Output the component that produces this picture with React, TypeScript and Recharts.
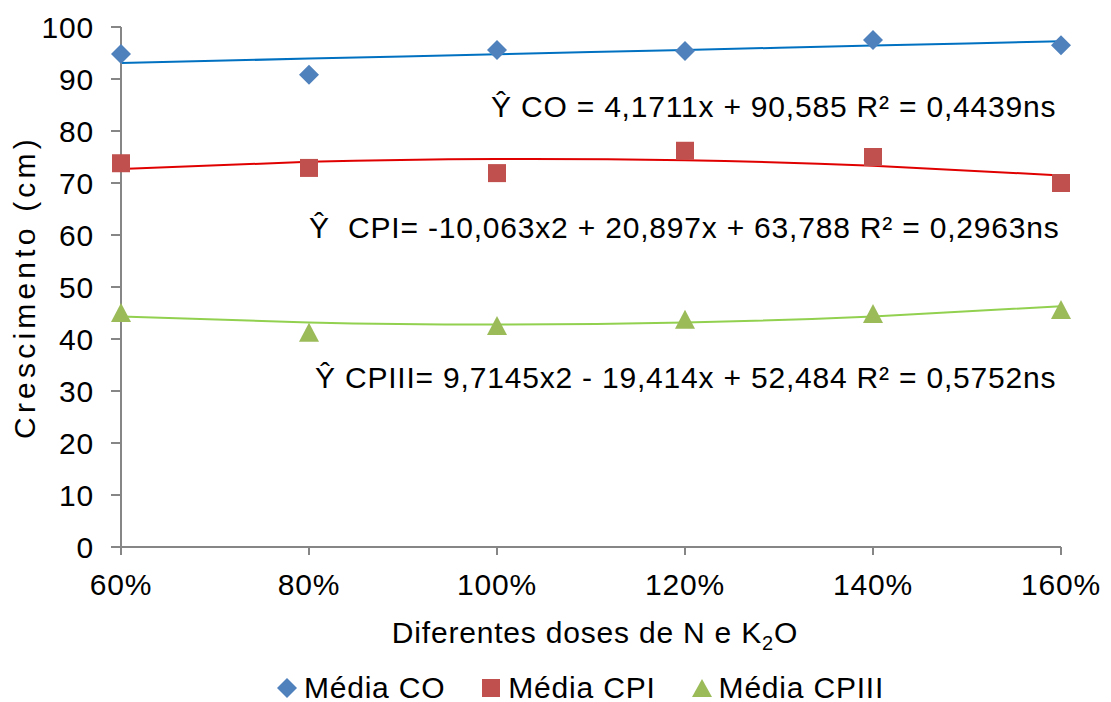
import React from "react";
import { ComposedChart, Line, Scatter, XAxis, YAxis } from "recharts";

// Doses of N and K2O (fraction of the recommended dose)
const doses = [0.6, 0.8, 1.0, 1.2, 1.4, 1.6];

// Mean growth (cm) per treatment
const mediaCO = [94.8, 90.8, 95.6, 95.4, 97.5, 96.5];
const mediaCPI = [73.8, 72.9, 71.9, 76.2, 75.0, 70.0];
const mediaCPIII = [45.0, 41.2, 42.5, 43.7, 44.8, 45.6];

// Fitted regression coefficients [a, b, c] for a*x^2 + b*x + c
const fitCO = [0, 4.1711, 90.585];
const fitCPI = [-10.063, 20.897, 63.788];
const fitCPIII = [9.7145, -19.414, 52.484];

const yTicks = [0, 10, 20, 30, 40, 50, 60, 70, 80, 90, 100];

const equations = [
  { text: "Ŷ CO = 4,1711x + 90,585 R² = 0,4439ns", x: 491, y: 117 },
  { text: "Ŷ  CPI= -10,063x2 + 20,897x + 63,788 R² = 0,2963ns", x: 309, y: 238 },
  { text: "Ŷ CPIII= 9,7145x2 - 19,414x + 52,484 R² = 0,5752ns", x: 315, y: 388 },
];

const poly = (c: number[], x: number) => c[0] * x * x + c[1] * x + c[2];

const rows = doses.map((d, i) => ({
  dose: d,
  co: mediaCO[i],
  cpi: mediaCPI[i],
  cpiii: mediaCPIII[i],
  coFit: poly(fitCO, d),
  cpiFit: poly(fitCPI, d),
  cpiiiFit: poly(fitCPIII, d),
}));

const FONT = "'Liberation Sans', Arial, sans-serif";
const AXIS = "#868686";
const FS = 30;
const LS = 0.8;

const Diamond = (p: any) => (
  <polygon
    points={`${p.cx},${p.cy - 10} ${p.cx + 10},${p.cy} ${p.cx},${p.cy + 10} ${p.cx - 10},${p.cy}`}
    fill="#4F81BD"
  />
);
const Square = (p: any) => (
  <rect x={p.cx - 9} y={p.cy - 9} width={18} height={18} fill="#C0504D" />
);
const Triangle = (p: any) => (
  <polygon
    points={`${p.cx},${p.cy - 10} ${p.cx + 10},${p.cy + 9} ${p.cx - 10},${p.cy + 9}`}
    fill="#9BBB59"
  />
);

const legendItems = [
  { label: "Média CO", icon: "diamond", color: "#4F81BD" },
  { label: "Média CPI", icon: "square", color: "#C0504D" },
  { label: "Média CPIII", icon: "triangle", color: "#9BBB59" },
];

function LegendIcon({ icon, color }: { icon: string; color: string }) {
  return (
    <svg width={20} height={20} style={{ marginRight: 7 }}>
      {icon === "diamond" && <polygon points="10,0 20,10 10,20 0,10" fill={color} />}
      {icon === "square" && <rect x={1} y={1} width={18} height={18} fill={color} />}
      {icon === "triangle" && <polygon points="10,1 20,19 0,19" fill={color} />}
    </svg>
  );
}

const tickStyle = { fill: "#000", fontSize: FS, fontFamily: FONT, letterSpacing: LS };

export default function App() {
  return (
    <div style={{ position: "relative", width: 1111, height: 702, background: "#fff", fontFamily: FONT }}>
      <style>{`body{margin:0}`}</style>
      <ComposedChart
        width={1111}
        height={702}
        data={rows}
        margin={{ top: 27, right: 50, left: 0, bottom: 115 }}
      >
        <XAxis
          dataKey="dose"
          type="number"
          domain={[0.6, 1.6]}
          ticks={doses}
          tickFormatter={(v) => `${Math.round(v * 100)}%`}
          stroke={AXIS}
          strokeWidth={2}
          tickSize={8}
          tickMargin={19}
          height={40}
          tick={tickStyle}
        />
        <YAxis
          type="number"
          domain={[0, 100]}
          ticks={yTicks}
          stroke={AXIS}
          strokeWidth={2}
          width={121}
          tickSize={10}
          tickMargin={17}
          tick={tickStyle}
        />
        <Line dataKey="coFit" type="natural" stroke="#0070C0" strokeWidth={2} dot={false} isAnimationActive={false} legendType="none" />
        <Line dataKey="cpiFit" type="natural" stroke="#E00000" strokeWidth={2} dot={false} isAnimationActive={false} legendType="none" />
        <Line dataKey="cpiiiFit" type="natural" stroke="#92D050" strokeWidth={2} dot={false} isAnimationActive={false} legendType="none" />
        <Scatter dataKey="co" shape={Diamond} isAnimationActive={false} />
        <Scatter dataKey="cpi" shape={Square} isAnimationActive={false} />
        <Scatter dataKey="cpiii" shape={Triangle} isAnimationActive={false} />
      </ComposedChart>

      <svg width={1111} height={702} style={{ position: "absolute", left: 0, top: 0, pointerEvents: "none" }}>
        {equations.map((e) => (
          <text
            key={e.text}
            x={e.x}
            y={e.y}
            fontSize={FS}
            fontFamily={FONT}
            fill="#000"
            letterSpacing={LS}
            style={{ whiteSpace: "pre" }}
          >
            {e.text}
          </text>
        ))}
        <text
          transform="translate(35,287) rotate(-90)"
          textAnchor="middle"
          fontSize={FS}
          fontFamily={FONT}
          letterSpacing={4.2}
          fill="#000"
        >
          Crescimento (cm)
        </text>
        <text x={595} y={643} textAnchor="middle" fontSize={FS} fontFamily={FONT} letterSpacing={LS} fill="#000">
          Diferentes doses de N e K
          <tspan fontSize={20} dy={7}>2</tspan>
          <tspan dy={-7}>O</tspan>
        </text>
      </svg>

      <div
        style={{
          position: "absolute",
          top: 671,
          left: 0,
          width: 1111,
          paddingLeft: 50,
          boxSizing: "border-box",
          display: "flex",
          justifyContent: "center",
          fontSize: FS,
          letterSpacing: LS,
          lineHeight: "34px",
        }}
      >
        {legendItems.map((it, i) => (
          <div
            key={it.label}
            style={{ display: "flex", alignItems: "center", marginRight: i < legendItems.length - 1 ? 36 : 0 }}
          >
            <LegendIcon icon={it.icon} color={it.color} />
            <span>{it.label}</span>
          </div>
        ))}
      </div>
    </div>
  );
}
